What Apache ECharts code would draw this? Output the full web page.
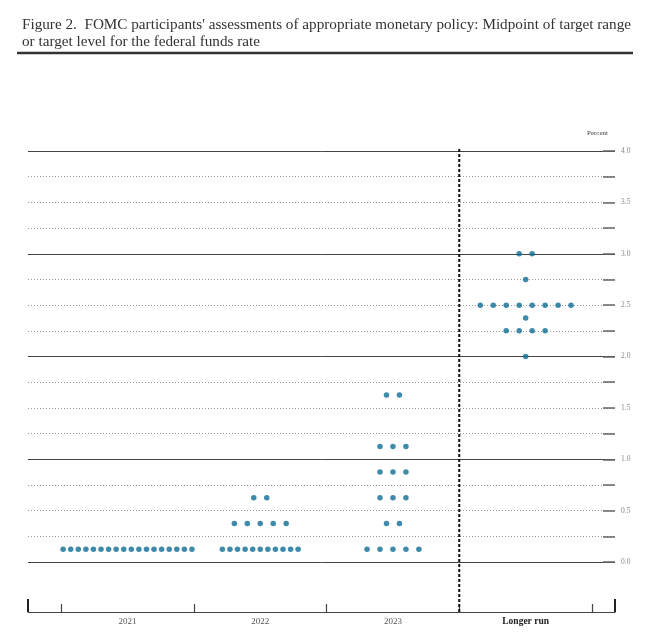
<!DOCTYPE html>
<html>
<head>
<meta charset="utf-8">
<script src="https://cdn.jsdelivr.net/npm/echarts@6/dist/echarts.min.js"></script>
<style>html,body{margin:0;padding:0;background:#fff}#c{width:650px;height:640px}</style>
</head>
<body>
<div id="c"></div>
<script>
const categories = ['2021', '2022', '2023', 'Longer run'];
// [target rate midpoint, number of participants]
const dots2021 = [[0.125, 18]];
const dots2022 = [[0.125, 11], [0.375, 5], [0.625, 2]];
const dots2023 = [[0.125, 5], [0.375, 2], [0.625, 3], [0.875, 3], [1.125, 3], [1.625, 2]];
const dotsLonger = [[2.0, 1], [2.25, 4], [2.375, 1], [2.5, 8], [2.75, 1], [3.0, 2]];
const yTicks = [0, 0.5, 1, 1.5, 2, 2.5, 3, 3.5, 4];

const groups = [dots2021, dots2022, dots2023, dotsLonger];
const points = [];
groups.forEach((g, ci) => {
  g.forEach(([rate, n]) => {
    const step = n > 8 ? 0.0571 : 0.0977;
    for (let k = 0; k < n; k++) {
      points.push([ci + (k - (n - 1) / 2) * step, rate]);
    }
  });
});

const chart = echarts.init(document.getElementById('c'));
const serif = 'Liberation Serif';
chart.setOption({
  backgroundColor: '#fff',
  animation: false,
  title: {
    text: "Figure 2.  FOMC participants' assessments of appropriate monetary policy: Midpoint of target range\nor target level for the federal funds rate",
    left: 17, top: 12,
    textStyle: { fontFamily: serif, fontSize: 15.2, fontWeight: 'normal', color: '#333', lineHeight: 17 }
  },
  graphic: [{
    type: 'line', shape: { x1: 17, y1: 53, x2: 633, y2: 53 },
    style: { stroke: '#333', lineWidth: 2.5 }
  }],
  grid: [
    { left: 28, right: 35, top: 151, height: 411 },
    { left: 61, right: 58, top: 148, height: 464 },
    { left: 28, right: 35, top: 598, height: 14 }
  ],
  xAxis: [
    { gridIndex: 0, type: 'value', min: -0.75, max: 3.673, show: false },
    { gridIndex: 1, type: 'category', data: categories, boundaryGap: true,
      axisLine: { show: false, onZero: false },
      axisTick: { show: true, inside: true, length: 8, lineStyle: { color: '#444', width: 1.2 } },
      axisLabel: { margin: 5, fontFamily: serif, fontSize: 9, color: '#555',
        formatter: v => v === 'Longer run' ? '{b|' + v + '}' : v,
        rich: { b: { fontFamily: serif, fontSize: 9.5, color: '#222', fontWeight: 'bold' } } },
      splitLine: { show: false } },
    { gridIndex: 1, type: 'value', min: -0.5, max: 3.5, show: false },
    { gridIndex: 2, type: 'value', min: 0, max: 1, interval: 1,
      axisLine: { show: true, onZero: false, lineStyle: { color: '#444', width: 1 } },
      axisTick: { show: true, inside: true, length: 13, lineStyle: { color: '#222', width: 2 } },
      axisLabel: { show: false }, splitLine: { show: false } }
  ],
  yAxis: [
    { gridIndex: 0, type: 'value', min: 0, max: 4, interval: 0.25, position: 'right',
      axisLine: { show: false, onZero: false },
      axisTick: { show: true, inside: true, length: 12, lineStyle: { color: '#666', width: 1.5 } },
      axisLabel: { show: false },
      splitLine: { show: true, lineStyle: { color: '#999', type: [1, 2], width: 1 } } },
    { gridIndex: 0, type: 'value', min: 0, max: 4, interval: 1, position: 'right',
      axisLine: { show: false, onZero: false }, axisTick: { show: false }, axisLabel: { show: false },
      splitLine: { show: true, lineStyle: { color: '#444', width: 1 } } },
    { gridIndex: 0, type: 'value', min: 0, max: 4, interval: 0.5, position: 'right',
      axisLine: { show: false, onZero: false }, axisTick: { show: false },
      axisLabel: { show: true, margin: 6, fontFamily: serif, fontSize: 7.5, color: '#888',
        formatter: v => yTicks.includes(v) ? v.toFixed(1) : '' },
      splitLine: { show: false },
      name: 'Percent', nameLocation: 'end', nameGap: 14,
      nameTextStyle: { fontFamily: serif, fontSize: 7, color: '#444', align: 'right', padding: [0, 7, 0, 0] } },
    { gridIndex: 1, type: 'value', min: 0, max: 1, show: false },
    { gridIndex: 2, type: 'value', min: 0, max: 1, show: false }
  ],
  series: [
    { type: 'scatter', xAxisIndex: 0, yAxisIndex: 0, data: points, symbolSize: 5.5,
      itemStyle: { color: '#0e6d96' }, silent: true },
    { type: 'line', xAxisIndex: 2, yAxisIndex: 3, data: [[2.5, 0], [2.5, 1]], symbol: 'none',
      lineStyle: { color: '#111', width: 2, type: [3, 2] }, silent: true }
  ]
});
</script>
</body>
</html>
